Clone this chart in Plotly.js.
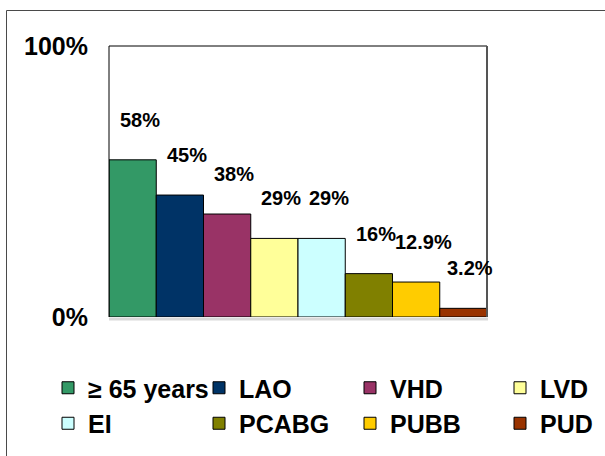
<!DOCTYPE html>
<html>
<head>
<meta charset="utf-8">
<script src="https://cdn.plot.ly/plotly-3.0.1.min.js"></script>
<style>html,body{margin:0;padding:0;background:#fff;}#chart{width:605px;height:456px;}</style>
</head>
<body>
<div id="chart"></div>
<script>
var categories = ["≥ 65 years", "LAO", "VHD", "LVD", "EI", "PCABG", "PUBB", "PUD"];
var values = [58, 45, 38, 29, 29, 16, 12.9, 3.2];
var valueLabels = ["58%", "45%", "38%", "29%", "29%", "16%", "12.9%", "3.2%"];
var colors = ["#339966", "#003366", "#993366", "#FFFF99", "#CCFFFF", "#808000", "#FFCC00", "#993300"];
var tickValues = [0, 100];
var tickLabels = ["0%", "100%"];

var FONT = "Liberation Sans, Arial, sans-serif";
var legendNames = ["legend", "legend2", "legend3", "legend4"];
var legendX = [48, 199, 350, 500];

var traces = categories.map(function (c, i) {
  return {
    type: "bar",
    x: [c],
    y: [values[i]],
    name: c,
    legend: legendNames[i % 4],
    marker: { color: colors[i], line: { color: "#000", width: 1 } },
    hoverinfo: "x+y"
  };
});

var annotations = categories.map(function (c, i) {
  return {
    x: c, y: values[i], xref: "x", yref: "y",
    text: valueLabels[i], showarrow: false,
    yanchor: "middle", xanchor: "center",
    xshift: 7, yshift: 40,
    font: { family: FONT, size: 20, weight: 700, color: "#000" }
  };
});

var L = 109, R = 487, T = 46, B = 317, W = 605, H = 456;
function px(x) { return (x - L) / (R - L); }
function py(y) { return (B - y) / (B - T); }

var shapes = [
  { type: "rect", xref: "paper", yref: "paper", x0: px(6.5), x1: px(615), y0: py(470), y1: py(10.5),
    line: { color: "#4a4a4a", width: 1 }, fillcolor: "rgba(0,0,0,0)", layer: "below" },
  { type: "line", xref: "paper", yref: "paper", x0: px(L), x1: px(R + 1), y0: py(B + 2), y1: py(B + 2),
    line: { color: "#d9d9d9", width: 3 } },
  { type: "line", xref: "paper", yref: "paper", x0: 0, x1: 0, y0: 0, y1: 1, line: { color: "#000", width: 1 } },
  { type: "line", xref: "paper", yref: "paper", x0: 0, x1: 1, y0: 1, y1: 1, line: { color: "#000", width: 1 } },
  { type: "line", xref: "paper", yref: "paper", x0: 1, x1: 1, y0: 0, y1: 1, line: { color: "#555", width: 2 } }
];

var layout = {
  width: W, height: H,
  margin: { l: L, r: W - R, t: T, b: H - B, autoexpand: false },
  paper_bgcolor: "#fff", plot_bgcolor: "#fff",
  barmode: "overlay", bargap: 0,
  showlegend: true,
  xaxis: { type: "category", categoryarray: categories, range: [-0.5, 7.5],
    showticklabels: false, showgrid: false, zeroline: false, showline: false, ticks: "", fixedrange: true },
  yaxis: { range: [0, 100], tickvals: tickValues, ticktext: tickLabels,
    showgrid: false, zeroline: false, showline: false, ticks: "", ticklabelstandoff: 20,
    tickfont: { family: FONT, size: 25, weight: 700, color: "#000" }, fixedrange: true },
  annotations: annotations,
  shapes: shapes,
  font: { family: FONT, color: "#000" }
};

legendNames.forEach(function (ln, k) {
  layout[ln] = {
    orientation: "v",
    xref: "container", yref: "container",
    x: legendX[k] / W, xanchor: "left",
    y: 1 - 365 / H, yanchor: "top",
    bgcolor: "rgba(0,0,0,0)", borderwidth: 0,
    tracegroupgap: 0,
    font: { family: FONT, size: 25, weight: 700, color: "#000" },
    itemclick: false, itemdoubleclick: false
  };
});

Plotly.newPlot("chart", traces, layout, { displayModeBar: false, staticPlot: true });
</script>
</body>
</html>
